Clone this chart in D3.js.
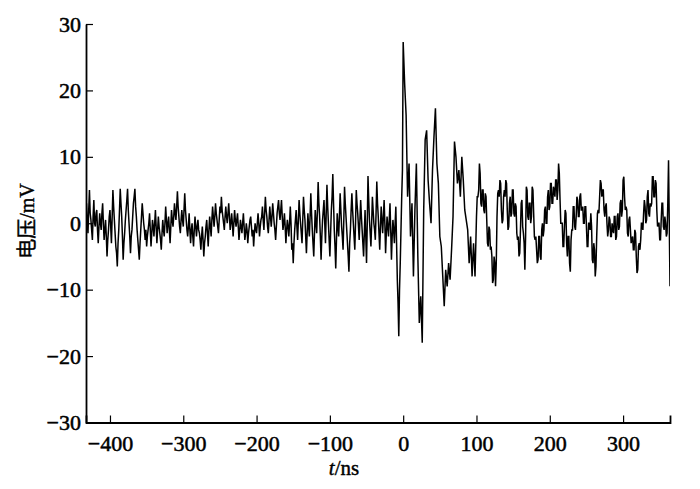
<!DOCTYPE html>
<html>
<head>
<meta charset="utf-8">
<script src="https://cdn.jsdelivr.net/npm/d3@7"></script>
<style>
body { margin: 0; background: #fff; }
</style>
</head>
<body>
<div id="chart"></div>
<script>
// tick values
var xTicks = [-400, -300, -200, -100, 0, 100, 200, 300];
var yTicks = [-30, -20, -10, 0, 10, 20, 30];
var timeRange = [-432.7, 364];
var voltRange = [-30, 30];

// sampled signal (mV), read off the trace
// -432 .. -1 ns, one value per ns
var voltageBefore = [
    3, 0.5, -1.5, 2, 5, 1.5, 0.5, -1, -2.5, 1, 3.5, 0, -0.5, 1.5, 2, -1, -3, -0.5, 1.5, 0,
    -1, 1.5, 3, 0, -2.5, -1, 0.5, -2, -5, -2.5, -1, 1, 2, -0.5, -3, 1, 5, 2.5, 0.5, -1.5,
    -3.5, -4.5, -6.5, -3, -1, 2, 5.2, 3, 1, -2, -5.5, -3, -1.5, 0.5, 2, 3.5, 5.2, 2, 0, -2,
    -4.5, -2, -1, 1, 3, 4, 5.2, 2.5, 1, -1, -2.5, -4, -5.5, -3, -1, 1, 3, 1.5, 0, -1,
    -2.5, -1, -3.5, -2, -1, 0, 1.5, -1, -3.5, -1.5, 0.5, -0.5, -2, 0, 2, -0.5, -3, -1, 1, -0.5,
    -1.5, -2.5, -4, -1.5, 0.5, -1, -2, 0, 2.5, 0.5, -1.5, 0, 1, -1, -3, -0.5, 2, 0.5, -0.5, 1,
    3, 1.5, 0.5, 2.5, 4.8, 2.5, 1, -0.5, -1.5, 0.5, 2, 0.5, -0.5, 2, 4.5, 2, 0.5, -1, -2, -0.5,
    1.5, -1, -3, -1, 0, -2, -3.5, -1, 1, -0.5, -2, -0.5, 0.5, -1, -1.5, -2.5, -4, -2, -0.5, -2.5,
    -5, -3, -2, -0.5, 0.5, -1.5, -3.5, -1, 1, -0.5, -2, 0.5, 2.5, 1, -0.5, 1, 3, 1.5, 0.5, -0.5,
    -1.5, 0.5, 2.5, 1.5, 4, 2, 1, 0, -1, 1, 2.5, 1, 0, 1.5, 3, 1, -1, 0, 1.5, 0,
    -2, 0, 2, 0.5, -0.5, 0.5, 1.5, -0.5, -2.5, -1, 0.5, -0.5, -1.5, 0, 1.5, -0.5, -2.5, -1.5, 0, -1,
    -3, -1.5, -0.5, 0.5, 1, -0.5, -2, -1, -3.5, -1.5, 0, -1, -1.5, 0, 1.5, 0, -2, -0.5, 0.5, 1,
    2.5, 0.5, -1, 1.5, 4, 2, 1, -0.5, -1.5, 0.5, 2.5, 1, -0.5, 1, 3, 1.5, 0, -1, -2.5, -0.5,
    1.5, 2.5, 3.5, 1.5, 0.5, 2, 3.5, 1, -1, 0, 1.5, -0.5, -3, -1, 0.5, -0.5, -2, 0, 2.5, 0,
    -4, -3, -6, -3, -1, 0.5, 2, -0.5, -2.5, 0.5, 3.5, 1.5, 0, -1.5, -3, 0.5, 4, 2, 0.5, -2,
    -4.5, -1.5, 1.5, -0.5, -2, 1, 4.5, 1.5, -1, -3, -5, -1.5, 2, 0, -1.5, 2, 6.2, 3, 1, -2,
    -5.5, -2, 0.5, 2, 3.5, 0, -3, 1.5, 5.8, 2.5, 0, -2.5, -5, -1.5, 2, 4, 7.4, 3, -1, -3.5,
    -6.8, -2.5, 1.5, -0.5, -2, 1, 4.5, 2, -0.5, -2, -4, 0.5, 5.5, 3, 1, -1, -3, -5, -7.3, -3,
    -1, 2, 4.5, 2, 0, -2, -4, 0, 5, 3, 1.5, -0.5, -2.5, 0.5, 3.5, 1, -1, -3, -5, -1.5,
    2, -2, -6, 0, 7.1, 3.5, 0.5, -1.5, -3.5, 0, 4, 2, 0, -1, -2.5, 1.5, 6.3, 3, 1, -1.5,
    -4, -0.5, 2.5, 0.5, -1.5, 1, 3.5, 0, -4.5, -1.5, 1, -0.5, -2, 0.5, 3, -1, -5.5, -2, 0.5, -1,
    -3, 0, 2.5, -3, -8.5, -12, -17, -10, -6, -1, 4, 8
];

// 0 .. 98 ns, one value every 2 ns
var voltagePulse = [
    27.3, 21, 16.3, 4, 9, -2, 3, -8, 2, 9,
    -5, -15, -11, -18, 2, 12.6, 14, 6.5, 3, 0,
    8, 13, 17.3, 9, 6, -2, -3.5, -8, -12.5, -7,
    -9.5, -6, -8.5, -4, 1, 12.3, 10, 6, 8, 4,
    10, 6.5, 2, 0.5, -1, -6, -2, -8, -3, -8
];

// 100 .. 364 ns, one value per ns
var voltageAfter = [
    1, 4, 4, 5, 9, 7.5, 3, 2.5, 5, 5, 2, 1.5, 4.5, 4, 0.5, -3, -3.5, -0.5, -1, -4,
    -3.5, -5, -9, -8.5, -5, -6, -9.5, -6, 1, 4.5, 5, 4, 6.5, 6, 2, 0, 0.5, 4, 5, 4,
    6.5, 6, 2, -1, -0.5, 3, 4, 1, 1.5, 5, 5, 1.5, 1, 3, 2.5, -1.5, -2.5, -2, -5, -4.5,
    -1, 3, 3.5, -0.5, -1.5, -3, -7, -2, 5.5, 5, 1, 0.5, 3, 3, 0, 1, 5.5, 5, 1.5, -2,
    -2.5, -2, -4, -6, -5.5, -2, -2, -5, -5.5, -1, 0, -2, -1, 2, 2.5, 0, 0, 4, 5, 2,
    2.5, 6, 6, 3, 3, 5.5, 5, 4, 6.5, 6.5, 3.5, 5, 9, 7.5, 3.5, 0, 0, 0, -3.5, -3.5,
    -0.5, 2, 1.5, -3, -5, -2, -2, -6, -7.3, -2.5, -1, -1, 2.5, 2.5, -0.5, -1, 1, 4, 3.5, 1,
    1, 4, 4.5, 2, 2, 2.5, 0, 0, 2.5, 2.5, -0.5, -3.5, -3.5, 0, 0, -1, 1.5, -0.5, -5.5, -6,
    -3, -4, -8, -6.5, -2, 1.5, 2, 1.5, 4, 6.5, 6, 4, 5, 5, 2, 1, 2.5, 3, 0, -2,
    -1, 1, 0.5, -2, -2, 0, -1, -1.5, 1, 1, -2.5, -2, 1, 1.5, -1, -0.5, 3, 3.5, 1, 2,
    6.5, 7, 4, 2, 2.5, 2, -1.5, -2, 0.5, 1, -1, -3, -2.5, -2, -4, -4, -1, -1.5, -5, -7.5,
    -7, -3.5, -3, -4, -2.5, 0, 0, -1, 1.5, 3.5, 2.5, 0, 0.5, 4, 5, 1.5, 1, 3, 2.5, 3,
    7, 7, 4, 4, 6.5, 6, 2, -0.5, 0, 0, -2.5, -2.5, 0.5, 3, 3, -0.5, -1, 1, 0, -2,
    -1.5, 3, 9.5, 0, -9.5
];

// where each piece starts (ns) and its sample spacing (ns)
var segmentStarts = [-432, 0, 100];
var segmentSteps = [1, 2, 1];

var width = 700;
var height = 489;
var plotLeft = 86, plotRight = 670, plotTop = 24, plotBottom = 422.5;
var fontFamily = '"Liberation Serif", "Times New Roman", serif';

var samples = [];
[voltageBefore, voltagePulse, voltageAfter].forEach(function(values, k){
    values.forEach(function(v, i){
        samples.push({t: segmentStarts[k] + i * segmentSteps[k], v: v});
    });
});

var svg = d3.select("#chart").append("svg:svg")
    .attr("width", width)
    .attr("height", height)
    .attr("xmlns", "http://www.w3.org/2000/svg");

var x = d3.scaleLinear().domain(timeRange).range([plotLeft, plotRight]);
var y = d3.scaleLinear().domain(voltRange).range([plotBottom, plotTop]);

function minus(d){
    return String(d).replace("-", "\u2212");
}

svg.append("defs").append("clipPath")
    .attr("id", "plot")
    .append("rect")
    .attr("x", plotLeft)
    .attr("y", plotTop)
    .attr("width", plotRight - plotLeft)
    .attr("height", plotBottom - plotTop);

// signal, drawn a bit heavy so the noise reads as a dark band
var line = d3.line()
    .x(function(d){ return x(d.t); })
    .y(function(d){ return y(d.v); });

svg.append("path")
    .datum(samples)
    .attr("clip-path", "url(#plot)")
    .attr("d", line)
    .style("fill", "none")
    .style("stroke", "#000")
    .style("stroke-width", 1.5)
    .style("stroke-linejoin", "miter")
    .style("stroke-miterlimit", 2);

// axes, ticks point inward
var xAxis = svg.append("g")
    .attr("transform", "translate(0," + plotBottom + ")")
    .call(d3.axisBottom(x)
        .tickValues(xTicks)
        .tickFormat(minus)
        .tickSizeInner(-7)
        .tickSizeOuter(-7)
        .tickPadding(13));

var yAxis = svg.append("g")
    .attr("transform", "translate(" + plotLeft + ",0)")
    .call(d3.axisLeft(y)
        .tickValues(yTicks)
        .tickFormat(minus)
        .tickSizeInner(-7)
        .tickSizeOuter(0)
        .tickPadding(5));

[xAxis, yAxis].forEach(function(g){
    g.selectAll(".domain")
        .style("stroke", "#000")
        .style("stroke-width", 1.8);
    g.selectAll(".tick line")
        .style("stroke", "#000")
        .style("stroke-width", 1.2);
    g.selectAll("text")
        .attr("font-family", fontFamily)
        .attr("font-size", 22)
        .style("fill", "#000")
        .style("stroke", "#000")
        .style("stroke-width", 0.5);
});

// axis titles
var xTitle = svg.append("text")
    .attr("x", 344)
    .attr("y", 475)
    .attr("text-anchor", "middle")
    .attr("font-family", fontFamily)
    .attr("font-size", 21)
    .style("stroke", "#000")
    .style("stroke-width", 0.4);
xTitle.append("tspan").style("font-style", "italic").text("t");
xTitle.append("tspan").text("/ns");

svg.append("text")
    .attr("transform", "translate(27,221) rotate(-90)")
    .attr("text-anchor", "middle")
    .attr("dy", "0.35em")
    .attr("font-family", '"Liberation Serif", "Noto Sans CJK SC", serif')
    .attr("font-size", 20)
    .style("stroke", "#000")
    .style("stroke-width", 0.4)
    .text("电压/mV");
</script>
</body>
</html>
